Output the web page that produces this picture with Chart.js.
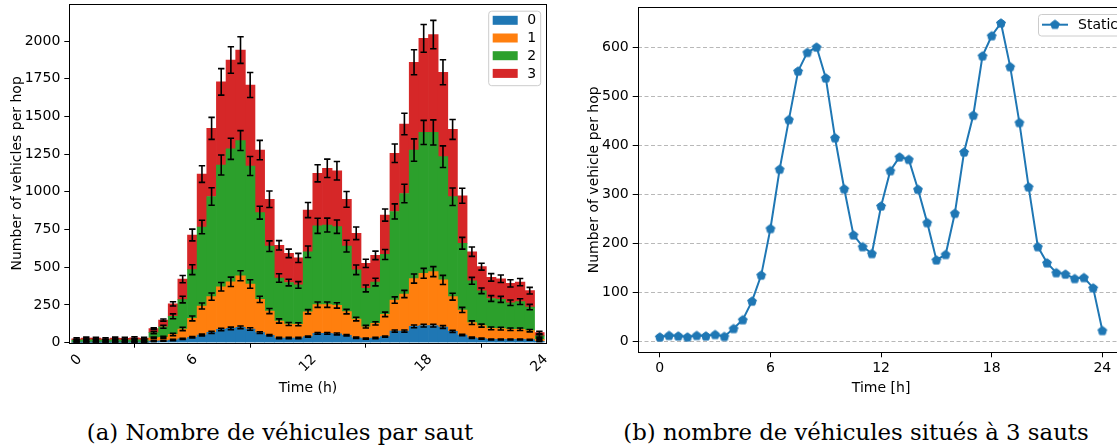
<!DOCTYPE html>
<html><head><meta charset="utf-8">
<script src="https://cdn.jsdelivr.net/npm/chart.js@4"></script>
<style>
html,body{margin:0;padding:0;background:#fff;overflow:hidden;width:1117px;height:448px;}
#wrap{position:relative;width:1117px;height:448px;overflow:hidden;}
#c1{position:absolute;left:0;top:0;}
#c2{position:absolute;left:560px;top:0;}
.cap{position:absolute;top:419px;width:600px;font-family:"DejaVu Serif",serif;font-size:22.8px;line-height:26px;white-space:nowrap;text-align:center;color:#000;}
</style></head>
<body><div id="wrap">
<canvas id="c1" width="560" height="400"></canvas>
<canvas id="c2" width="580" height="400"></canvas>
<div class="cap" style="left:-20px">(a) Nombre de véhicules par saut</div>
<div class="cap" style="left:556px">(b) nombre de véhicules situés à 3 sauts</div>
</div>
<script>
const hours = [0,0.5,1,1.5,2,2.5,3,3.5,4,4.5,5,5.5,6,6.5,7,7.5,8,8.5,9,9.5,10,10.5,11,11.5,12,12.5,13,13.5,14,14.5,15,15.5,16,16.5,17,17.5,18,18.5,19,19.5,20,20.5,21,21.5,22,22.5,23,23.5,24];
const hop0 = [1,1,1,1,1,1,1,1,10,13,18,25,36,51,69,88,95,102,91,67,49,31,31,31,40,62,62,58,49,33,27,31,40,77,77,108,113,113,104,75,51,33,27,22,22,22,22,20,9];
const hop1 = [2,2,2,2,2,2,2,2,22,23,37,66,125,192,236,283,309,342,298,220,161,113,93,91,165,190,190,189,157,124,79,97,148,206,246,317,347,358,312,230,166,100,86,73,71,67,67,60,13];
const hop2 = [14,16,16,14,16,15,16,16,35,70,120,195,323,524,664,807,881,896,782,575,430,285,275,261,398,523,528,522,434,326,254,274,397,587,666,852,934,923,817,663,442,277,231,198,194,176,183,156,23];
const hop3 = [9,12,11,9,12,11,14,10,26,44,82,135,230,351,452,551,589,600,537,415,311,217,193,179,276,348,376,371,310,242,166,177,261,386,461,582,623,649,560,446,315,193,160,140,137,128,130,109,22];
const err0 = [2,2,2,2,2,2,2,2,3,3,4,4,5,6,7,8,8,9,8,6,5,4,4,4,4,6,6,6,5,4,3,4,4,7,7,9,9,9,9,7,5,4,3,3,3,3,3,3,2];
const err1 = [3,3,3,3,3,3,3,3,5,6,8,11,16,20,24,28,31,33,28,21,17,14,10,10,14,18,18,18,15,12,9,11,15,21,24,30,33,33,30,23,17,12,10,9,9,8,8,8,4];
const err2 = [5,5,5,5,5,5,5,5,7,10,16,22,33,45,58,66,70,66,63,43,35,28,22,22,38,50,46,44,39,32,23,25,33,50,61,74,80,83,72,58,39,23,19,19,20,18,19,18,8];
const err3 = [6,6,6,6,6,6,6,6,5,7,14,24,39,55,73,88,88,88,83,64,55,31,28,30,50,57,61,61,52,42,27,28,40,61,71,83,92,94,83,66,50,31,23,25,25,24,24,22,8];
const static3 = [9,12,11,9,12,11,14,10,26,44,82,135,230,351,452,551,589,600,537,415,311,217,193,179,276,348,376,371,310,242,166,177,261,386,461,582,623,649,560,446,315,193,160,140,137,128,130,109,22];
const hopLabels = ['0','1','2','3'];
const hopColors = ['#1f77b4','#ff7f0e','#2ca02c','#d62728'];
const xTicks = [0,6,12,18,24];
const yTicksLeft = [0,250,500,750,1000,1250,1500,1750,2000];
const yTicksRight = [0,100,200,300,400,500,600];
const lineLabel = 'Static';

Chart.defaults.font.family = '"DejaVu Sans", sans-serif';
Chart.defaults.font.size = 14;
Chart.defaults.color = '#000';

const layers = [hop0,hop1,hop2,hop3];
const errs = [err0,err1,err2,err3];
const cum = [];
let run = hours.map(() => 0);
layers.forEach(arr => { run = run.map((v,i) => v + arr[i]); cum.push(run.slice()); });

function fixBox(s, prop, val){
  s[prop] = val;
  s.paddingTop = 0; s.paddingBottom = 0; s.paddingLeft = 0; s.paddingRight = 0;
}
function frame(chart){
  const {ctx, chartArea:a} = chart;
  ctx.save(); ctx.strokeStyle = '#000'; ctx.lineWidth = 1;
  ctx.strokeRect(Math.round(a.left)+0.5, Math.round(a.top)+0.5, Math.round(a.right-a.left), Math.round(a.bottom-a.top));
  ctx.restore();
}
function legendBox(ctx, x, y, w, h){
  ctx.save();
  ctx.fillStyle = 'rgba(255,255,255,0.85)';
  ctx.strokeStyle = '#cccccc'; ctx.lineWidth = 1;
  ctx.beginPath(); ctx.roundRect(x+0.5, y+0.5, w, h, 3); ctx.fill(); ctx.stroke();
  ctx.restore();
}

const leftPlugin = {
  id: 'leftPlugin',
  afterDatasetsDraw(chart){
    const {ctx, chartArea:a, scales:{x, y}} = chart;
    ctx.save();
    ctx.beginPath(); ctx.rect(a.left, a.top, a.right-a.left, a.bottom-a.top); ctx.clip();
    ctx.strokeStyle = '#000'; ctx.lineWidth = 1.6;
    errs.forEach((e, d) => {
      hours.forEach((h, i) => {
        const px = x.getPixelForValue(h);
        const t = y.getPixelForValue(cum[d][i] + e[i]);
        const b = y.getPixelForValue(cum[d][i] - e[i]);
        ctx.beginPath();
        ctx.moveTo(px, t); ctx.lineTo(px, b);
        ctx.moveTo(px-3.2, t); ctx.lineTo(px+3.2, t);
        ctx.moveTo(px-3.2, b); ctx.lineTo(px+3.2, b);
        ctx.stroke();
      });
    });
    ctx.restore();
    frame(chart);
    ctx.save();
    ctx.fillStyle = '#000'; ctx.font = '14px "DejaVu Sans"';
    ctx.textAlign = 'center'; ctx.textBaseline = 'middle';
    xTicks.forEach(v => {
      const px = x.getPixelForValue(v);
      const w = ctx.measureText(String(v)).width;
      const half = (w + 14) * 0.7071 / 2;
      ctx.save();
      ctx.translate(px, a.bottom + 5 + 4.5 + half);
      ctx.rotate(-Math.PI/4);
      ctx.fillText(String(v), 0, 0);
      ctx.restore();
    });
    ctx.restore();
    const lw = 52, lh = 74.5;
    const lx = a.right - 6.5 - lw, ly = a.top + 6.7;
    legendBox(ctx, lx, ly, lw, lh);
    ctx.save();
    ctx.font = '14px "DejaVu Sans"'; ctx.textBaseline = 'middle'; ctx.textAlign = 'left';
    hopLabels.forEach((lab, k) => {
      const cy = ly + 9.6 + k*17.7;
      ctx.fillStyle = hopColors[k];
      ctx.fillRect(lx + 4.5, cy - 4.5, 25, 9);
      ctx.fillStyle = '#000';
      ctx.fillText(lab, lx + 39, cy + 0.5);
    });
    ctx.restore();
  }
};

new Chart(document.getElementById('c1'), {
  type: 'bar',
  data: {
    datasets: layers.map((arr, d) => ({
      label: hopLabels[d],
      data: hours.map((h, i) => ({x: h, y: arr[i]})),
      backgroundColor: hopColors[d],
      borderWidth: 0,
      barPercentage: 1,
      categoryPercentage: 1
    }))
  },
  options: {
    responsive: false, animation: false,
    layout: {padding: {left: 0, top: 4, right: 13.3, bottom: 3.6}},
    plugins: {legend: {display: false}, tooltip: {enabled: false}},
    scales: {
      x: {
        type: 'linear', stacked: true, offset: false, min: -0.38, max: 24.38,
        afterBuildTicks: s => { s.ticks = xTicks.map(v => ({value: v})); },
        afterFit: s => fixBox(s, 'height', 53.7),
        ticks: {color: 'rgba(0,0,0,0)', autoSkip: false, maxRotation: 0, minRotation: 0},
        grid: {drawOnChartArea: false, drawTicks: true, tickLength: 5, tickColor: '#000', tickWidth: 1},
        border: {display: false},
        title: {display: true, text: 'Time (h)', padding: 0, font: {size: 14}}
      },
      y: {
        type: 'linear', stacked: true, min: 0, max: 2245.3,
        afterBuildTicks: s => { s.ticks = yTicksLeft.map(v => ({value: v})); },
        afterFit: s => fixBox(s, 'width', 69.3),
        ticks: {autoSkip: false, padding: 4, callback: v => String(v)},
        grid: {drawOnChartArea: false, drawTicks: true, tickLength: 5, tickColor: '#000', tickWidth: 1},
        border: {display: false},
        title: {display: true, text: 'Number of vehicles per hop', padding: {top: 8.6, bottom: 0}, font: {size: 14}}
      }
    }
  },
  plugins: [leftPlugin]
});

function pentagon(color){
  const c = document.createElement('canvas');
  c.width = 12; c.height = 12;
  const g = c.getContext('2d');
  g.fillStyle = color; g.strokeStyle = color; g.lineWidth = 1;
  g.beginPath();
  for (let k = 0; k < 5; k++){
    const ang = -Math.PI/2 + k*2*Math.PI/5;
    const px = 6 + 4.6*Math.cos(ang), py = 6.4 + 4.6*Math.sin(ang);
    k ? g.lineTo(px, py) : g.moveTo(px, py);
  }
  g.closePath(); g.fill(); g.stroke();
  return c;
}
const penta = pentagon('#1f77b4');

const rightPlugin = {
  id: 'rightPlugin',
  afterDatasetsDraw(chart){
    const {ctx, chartArea:a} = chart;
    frame(chart);
    const lx = a.left + 400.3, ly = a.top + 6.7;
    legendBox(ctx, lx, ly, 90, 21.5);
    ctx.save();
    ctx.strokeStyle = '#1f77b4'; ctx.lineWidth = 2;
    const cy = ly + 10.7;
    ctx.beginPath(); ctx.moveTo(lx + 4, cy); ctx.lineTo(lx + 30, cy); ctx.stroke();
    ctx.drawImage(penta, lx + 17 - 6, cy - 6.4);
    ctx.fillStyle = '#000'; ctx.font = '14px "DejaVu Sans"';
    ctx.textBaseline = 'middle'; ctx.textAlign = 'left';
    ctx.fillText(lineLabel, lx + 40, cy + 0.5);
    ctx.restore();
  }
};

new Chart(document.getElementById('c2'), {
  type: 'line',
  data: {
    datasets: [{
      label: lineLabel,
      data: hours.map((h, i) => ({x: h, y: static3[i]})),
      borderColor: '#1f77b4', backgroundColor: '#1f77b4',
      borderWidth: 2, tension: 0,
      pointStyle: penta, pointRadius: 5
    }]
  },
  options: {
    responsive: false, animation: false,
    layout: {padding: {left: 0, top: 7.3, right: 15.5, bottom: 3.6}},
    plugins: {legend: {display: false}, tooltip: {enabled: false}},
    scales: {
      x: {
        type: 'linear', min: -1.2, max: 25.2, offset: false,
        afterBuildTicks: s => { s.ticks = xTicks.map(v => ({value: v})); },
        afterFit: s => fixBox(s, 'height', 44.1),
        ticks: {autoSkip: false, maxRotation: 0, minRotation: 0, padding: 3},
        grid: {drawOnChartArea: false, drawTicks: true, tickLength: 5, tickColor: '#000', tickWidth: 1},
        border: {display: false},
        title: {display: true, text: 'Time [h]', padding: 0, font: {size: 14}}
      },
      y: {
        type: 'linear', min: -22.4, max: 681,
        afterBuildTicks: s => { s.ticks = yTicksRight.map(v => ({value: v})); },
        afterFit: s => fixBox(s, 'width', 77.7),
        ticks: {autoSkip: false, padding: 4, callback: v => String(v)},
        grid: {drawOnChartArea: true, color: '#b8b8b8', lineWidth: 1, drawTicks: true, tickLength: 5, tickColor: '#000', tickWidth: 1},
        border: {display: false, dash: [4, 2.5]},
        title: {display: true, text: 'Number of vehicle per hop', padding: {top: 25.6, bottom: 0}, font: {size: 14}}
      }
    }
  },
  plugins: [rightPlugin]
});
</script>
</body></html>
